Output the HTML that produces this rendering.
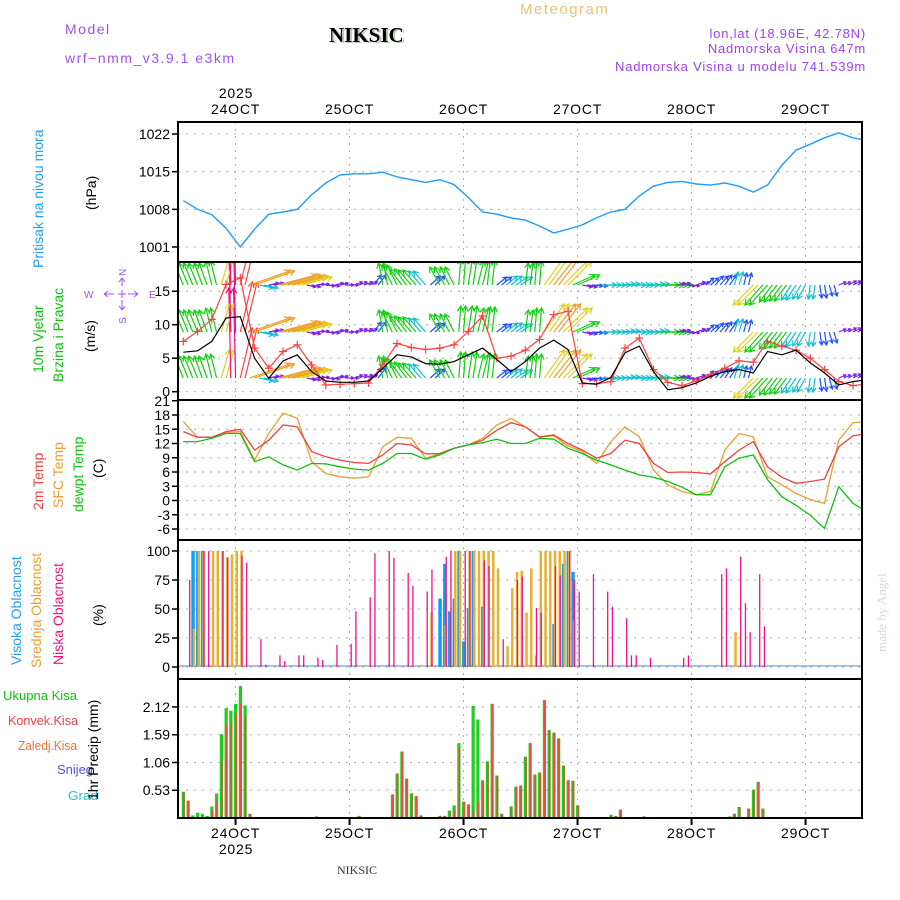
<!DOCTYPE html>
<html><head><meta charset="utf-8"><style>
body{margin:0;background:#fff}
svg{display:block}
text{font-family:"Liberation Sans",sans-serif}
</style></head><body>
<svg id="chart" width="900" height="900" viewBox="0 0 900 900" xmlns="http://www.w3.org/2000/svg">
<defs>
<clipPath id="c1"><rect x="178" y="122" width="684" height="140"/></clipPath>
<clipPath id="c2"><rect x="178" y="262" width="684" height="138"/></clipPath>
<clipPath id="c3"><rect x="178" y="400" width="684" height="140"/></clipPath>
<clipPath id="c4"><rect x="178" y="540" width="684" height="139"/></clipPath>
<clipPath id="c5"><rect x="178" y="679" width="684" height="139"/></clipPath>
</defs>
<g>
<text x="65" y="34" fill="#a050f0" font-size="14" letter-spacing="1.5">Model</text>
<text x="65" y="63" fill="#a050f0" font-size="14" letter-spacing="1.5">wrf−nmm_v3.9.1  e3km</text>
<text x="331" y="43" fill="#b8c8b8" font-size="21" font-weight="bold" style="font-family:'Liberation Serif',serif">NIKSIC</text>
<text x="329" y="42" fill="#000" font-size="21" font-weight="bold" style="font-family:'Liberation Serif',serif">NIKSIC</text>
<text x="520" y="14" fill="#f0c070" font-size="15" letter-spacing="1.5">Meteogram</text>
<text x="866" y="38" fill="#a040f0" font-size="13" text-anchor="end" letter-spacing="0.8">lon,lat (18.96E, 42.78N)</text>
<text x="866" y="53" fill="#a040f0" font-size="13" text-anchor="end" letter-spacing="0.8">Nadmorska Visina 647m</text>
<text x="866" y="71" fill="#a040f0" font-size="13" text-anchor="end" letter-spacing="0.8">Nadmorska Visina u modelu 741.539m</text>
<text x="236" y="98" font-size="14" text-anchor="middle" letter-spacing="0.8">2025</text>
<text x="236" y="854" font-size="14" text-anchor="middle" letter-spacing="0.8">2025</text>
<text x="357" y="874" font-size="12" text-anchor="middle" style="font-family:'Liberation Serif',serif" fill="#333">NIKSIC</text>
<text transform="translate(886,652) rotate(-90)" fill="#d8dcd8" font-size="13" style="font-family:'Liberation Serif',serif">made by Angel</text>
</g>
<g>
<text transform="translate(43,268) rotate(-90)" fill="#20a0f0" font-size="14">Pritisak na nivou mora</text>
<text transform="translate(96,210) rotate(-90)" font-size="14">(hPa)</text>
<text transform="translate(43,373) rotate(-90)" fill="#10c010" font-size="14">10m Vjetar</text>
<text transform="translate(63,382) rotate(-90)" fill="#10c010" font-size="14">Brzina i Pravac</text>
<text transform="translate(95,352) rotate(-90)" font-size="14">(m/s)</text>
<g fill="#a050f0" font-size="10" stroke="none">
<text x="84" y="298">W</text><text x="149" y="298">E</text>
<text transform="translate(126,276) rotate(-90)">N</text><text transform="translate(126,324) rotate(-90)">S</text>
<path d="M104,294h10M118,294h8M128,294h10M104,294l4,-3M104,294l4,3M138,294l-4,-3M138,294l-4,3M122,278v8M122,290v8M122,300v10M122,278l-3,4M122,278l3,4M122,310l-3,-4M122,310l3,-4" stroke="#a050f0" stroke-width="1" fill="none"/>
</g>
<text transform="translate(43,510) rotate(-90)" fill="#f04040" font-size="14">2m Temp</text>
<text transform="translate(63,508) rotate(-90)" fill="#e8a030" font-size="14">SFC Temp</text>
<text transform="translate(83,512) rotate(-90)" fill="#10c010" font-size="14">dewpt Temp</text>
<text transform="translate(103,478) rotate(-90)" font-size="14">(C)</text>
<text transform="translate(21,665) rotate(-90)" fill="#20a0f0" font-size="14">Visoka Oblacnost</text>
<text transform="translate(41,668) rotate(-90)" fill="#e8a030" font-size="14">Srednja Oblacnost</text>
<text transform="translate(63,665) rotate(-90)" fill="#f01080" font-size="14">Niska Oblacnost</text>
<text transform="translate(103,626) rotate(-90)" font-size="14">(%)</text>
<text x="3" y="700" fill="#10c010" font-size="13" textLength="74" lengthAdjust="spacingAndGlyphs">Ukupna Kisa</text>
<text x="8" y="725" fill="#f04040" font-size="13" textLength="70" lengthAdjust="spacingAndGlyphs">Konvek.Kisa</text>
<text x="18" y="750" fill="#f07030" font-size="13" textLength="59" lengthAdjust="spacingAndGlyphs">Zaledj.Kisa</text>
<text x="57" y="774" fill="#5050f0" font-size="13" textLength="36" lengthAdjust="spacingAndGlyphs">Snijeg</text>
<text x="68" y="800" fill="#20c0d0" font-size="13" textLength="30" lengthAdjust="spacingAndGlyphs">Grad</text>
<text transform="translate(98,800) rotate(-90)" font-size="14">1hr Precip (mm)</text>
</g>
<g id="grid"></g>
<g id="marks"></g>
<g id="frames"></g>
</svg>
<script>
const dayLabels = ["24OCT","25OCT","26OCT","27OCT","28OCT","29OCT"];
const dayHours = [11,35,59,83,107,131];
const pressureTicks = [1022,1015,1008,1001];
const windTicks = [15,10,5,0];
const tempTicks = [21,18,15,12,9,6,3,0,-3,-6];
const cloudTicks = [100,75,50,25,0];
const precipTicks = [2.12,1.59,1.06,0.53];
const lineHours = [0,3,6,9,12,15,18,21,24,27,30,33,36,39,42,45,48,51,54,57,60,63,66,69,72,75,78,81,84,87,90,93,96,99,102,105,108,111,114,117,120,123,126,129,132,135,138,141,144];
const pressure = [1009.6,1008,1007,1004.5,1001,1004.3,1007.1,1007.5,1008,1010.7,1012.9,1014.4,1014.6,1014.6,1014.9,1014,1013.5,1013,1013.5,1012.6,1010.2,1007.5,1007.1,1006.4,1006,1004.9,1003.6,1004.3,1005.1,1006.4,1007.5,1008,1010.5,1012.3,1013,1013.2,1012.7,1012.5,1012.9,1012.3,1011.2,1012.5,1016.2,1019,1020.1,1021.3,1022.2,1021.3,1020.8];
const windSpeed = [5.9,6.1,7.5,11,11.2,5,2,4.6,5.5,3,1.6,1.4,1.4,1.6,3.5,5.5,5.2,4.2,4.1,4.5,5.5,6.5,4.8,3,4.5,6.5,7.7,6.3,1.3,1.1,2.1,5.8,6.8,3,0.3,0.6,1.3,2.3,3,3.3,2.8,6,5.5,6.2,4.3,2.8,1,1.5,1.8];
const windGust = [7.5,9,10.8,16,17,6.5,3.5,6,7,4,1,1.1,1.2,1.3,4,7.2,6.6,6.3,6.5,7,9,11.3,5,5.3,6.2,7.8,11.5,12,1.2,1.2,1.5,6.5,8,3.3,1.4,0.9,1.6,2.5,3.5,4.6,4.4,7.5,6.8,6.2,5,3.3,1.5,0.9,1.2];
const temp2m = [14.5,13.3,13.3,14.5,15,10.6,12.7,15.9,15.5,10.3,9.2,8.5,8,7.8,9.6,12,11.7,9.8,9.9,11,11.7,12.7,14.8,16.4,15.5,13.4,13.8,12,10.6,8.9,9.9,12.7,12,7.8,5.9,6,5.9,5.6,8.2,10.6,12.4,7.1,4.9,3.6,4,4.5,11.3,13.6,14.1];
const tempSfc = [16.6,13.3,13.3,14.3,14.5,8.5,14.1,18.4,17.3,8.2,5.7,5,4.7,5,11.3,13.3,13.1,8.9,9.9,11,11.7,13.1,15.9,17.3,15.5,13.4,13.6,11.5,10.3,7.8,12.4,15.5,13.4,6.4,3.3,1.9,1.2,1.9,10.6,14.1,13.4,5,3.3,1.5,0.2,-0.6,12.7,16.4,16.6];
const tempDew = [12.4,12.4,13.1,14.1,14.1,8.2,9.2,7.5,6.4,7.8,7.7,7.1,6.6,6.4,7.8,9.9,9.9,8.7,9.6,11,11.7,12.2,12.9,12,12,13.1,12.9,11,9.9,8.5,7.5,6.4,5.4,4.9,4,2.8,1.2,1.2,7.1,8.9,9.6,4.4,0.8,-1,-3.1,-5.9,2.9,-0.6,-2.4];
const arrowDX = [-9,-9,-8,-6,8,-2,12,40,14,10,38,36,30,9,8,9,8,9,8,9,8,-4,-10,-12,-13,-12,10,-10,-9,2,4,6,3,10,11,12,3,2,20,22,24,22,10,11,15,15,15,16,15,16,21,20,8,8,9,8,8,7,4,3,-20,-18,-13,-12,-10,-8,-2,2,3,7,8,9];
const arrowDY = [22,22,22,24,28,90,50,14,-3,2,10,9,8,-2,1,-1,2,0,3,3,10,22,20,16,15,14,9,18,18,26,26,24,25,8,9,8,22,24,28,28,24,10,-2,-1,0,0,1,0,0,1,0,0,2,-1,3,7,9,10,13,12,-20,-20,-17,-16,-15,-14,-14,-13,-11,3,4,5];
const lowHour = [1,4,5,8,9,12,13,16,17,20,21,24,25,28,29,32,35,36,39,40,43,44,47,48,51,52,55,56,59,60,63,64,67,70,71,74,75,78,79,81,82,83,86,89,90,93,94,95,98,105,106,113,114,117,118,119,121,122];
const lowPct = [75,100,100,100,94,96,90,24,2,10,5,10,10,8,6,19,20,48,60,98,100,94,81,70,65,84,95,100,100,100,92,87,24,75,78,51,47,87,79,100,75,65,80,65,52,42,10,10,8,8,10,80,85,95,55,30,80,35];
const midHour = [2,3,4,6,7,8,9,10,11,12,52,55,57,58,60,61,62,63,64,65,66,68,69,70,71,72,73,74,75,76,77,78,79,80,81,82,116];
const midPct = [33,100,100,100,100,100,95,97,100,100,47,36,100,100,100,100,100,100,100,100,85,18,68,82,83,47,85,10,100,100,100,100,100,100,100,40,30];
const highHour = [2,3,4,54,55,56,57,58,59,60,61,63,78,80,81,82];
const highPct = [100,100,100,59,89,48,59,100,22,51,100,52,37,89,100,82];
const precipHour = [0,1,2,3,4,5,6,7,8,9,10,11,12,13,14,28,37,44,45,46,47,48,49,50,53,54,55,56,57,58,59,60,61,62,63,64,65,66,67,69,70,71,72,73,74,75,76,77,78,79,80,81,82,83,90,91,92,97,115,116,117,119,120,121,122];
const precipTotal = [.5,.33,.05,.1,.08,.04,.22,.47,1.6,2.1,2.05,2.18,2.52,2.15,.08,.03,.04,.45,.85,1.27,.75,.47,.42,.05,.02,.04,.04,.14,.24,1.43,.31,.26,2.14,1.88,.72,1.08,2.18,.81,.08,.22,.6,.62,1.17,1.43,.83,.87,2.25,1.68,1.63,1.52,1.0,.72,.71,.24,.06,.04,.16,.03,.03,.08,.21,.18,.54,.69,.18];
const precipConv = [.5,.33,0,0,0,0,.16,.32,1.1,1.77,1.85,2.0,2.18,1.96,.08,.03,.04,.45,.85,1.27,.75,.47,.42,.05,.02,.04,.04,.1,.14,1.33,.31,.26,.15,.3,.72,1.08,2.18,.81,.08,.22,.6,.62,1.17,1.43,.83,.87,2.25,1.68,1.63,1.52,1.0,.72,.71,.24,.04,.04,.16,.03,0,.08,.21,.18,.54,.69,.18];

const NS="http://www.w3.org/2000/svg";
const X0=178,X1=862;
function xh(h){return 183.3+4.75*h;}
function yP(p){return 134+(1022-p)*5.381;}
function yW(v){return 391.7-v*6.7;}
function yT(t){return 500.5-t*4.75;}
function yC(c){return 667-c*1.16;}
function yR(r){return 818-r*52.36;}
function mk(tag,at,parent){const e=document.createElementNS(NS,tag);for(const k in at)e.setAttribute(k,at[k]);parent.appendChild(e);return e;}
const grid=document.getElementById('grid'),marks=document.getElementById('marks'),frames=document.getElementById('frames');
const panels=[[122,262,pressureTicks,yP,'c1'],[262,400,windTicks,yW,'c2'],[400,540,tempTicks,yT,'c3'],[540,679,cloudTicks,yC,'c4'],[679,818,precipTicks,yR,'c5']];
panels.forEach((p,pi)=>{
  p[2].forEach(t=>{const y=p[3](t);
    const g=mk('line',{x1:X0,x2:X1,y1:y,y2:y,stroke:'#aaa','stroke-dasharray':'2,6','stroke-width':1},grid);
    
    
    const tk=mk('line',{x1:X0-6,x2:X0,y1:y,y2:y,stroke:'#000','stroke-width':1.5},frames);
    
    
    const tx=mk('text',{x:X0-8,y:y+5,'text-anchor':'end','font-size':14},frames);
    
    
    tx.textContent=String(t);
  });
  dayHours.forEach(d=>{const x=xh(d);
    const g=mk('line',{x1:x,x2:x,y1:p[0],y2:p[1],stroke:'#aaa','stroke-dasharray':'2,5','stroke-width':1},grid);
    
    });
  const r=mk('rect',{x:X0,y:p[0],width:X1-X0,height:p[1]-p[0],fill:'none',stroke:'#000','stroke-width':2},frames);
  
  
});
dayLabels.forEach((l,i)=>{const x=xh(dayHours[i]);
  const a=mk('text',{x:x,y:114,'text-anchor':'middle','font-size':14,'letter-spacing':0.8},frames);
  
  
  a.textContent=l;
  const b=mk('text',{x:x,y:838,'text-anchor':'middle','font-size':14,'letter-spacing':0.8},frames);
  
  
  b.textContent=l;
  const t=mk('line',{x1:x,x2:x,y1:818,y2:825,stroke:'#000','stroke-width':2},frames);
  
  
});
function poly(vals,yf,color,clip,name,w){
  const pts=vals.map((v,i)=>xh(lineHours[i]).toFixed(1)+','+yf(v).toFixed(1)).join(' ');
  const e=mk('polyline',{points:pts,fill:'none',stroke:color,'stroke-width':w||1.3,'clip-path':'url(#'+clip+')'},marks);
  
  
}
poly(pressure,yP,'#1e9bff','c1','pressure-line',1.4);
function arrowColor(l){if(l<10.5)return'#8020e0';if(l<13.5)return'#2050ff';if(l<19)return'#10c0d0';if(l<28)return'#10d010';if(l<35)return'#e0d020';if(l<48)return'#f0a020';if(l<75)return'#ff4040';return'#f01080';}
const rowY=[378,332,285];
const ag=mk('g',{'clip-path':'url(#c2)'},marks);


rowY.forEach(ry=>{
  for(let h=0;h<144;h++){
    const i=Math.floor(h/2);const dx=arrowDX[i],dy=-arrowDY[i];
    const L=Math.hypot(dx,dy);const col=arrowColor(L);
    const x=xh(h),x2=x+dx,y2=ry+dy;
    const ux=dx/L,uy=dy/L;const hs=Math.min(6,L*0.35);
    const d='M'+x+','+ry+'L'+x2+','+y2+'M'+(x2-hs*(ux*0.87-uy*0.5))+','+(y2-hs*(uy*0.87+ux*0.5))+'L'+x2+','+y2+'L'+(x2-hs*(ux*0.87+uy*0.5))+','+(y2-hs*(uy*0.87-ux*0.5));
    const a=mk('path',{d:d,stroke:col,'stroke-width':1.2,fill:'none'},ag);
    
    
  }
});
poly(windGust,yW,'#ff4040','c2','gust-line',1.2);
windGust.forEach((v,i)=>{const x=xh(lineHours[i]),y=yW(v);
  const c=mk('path',{d:'M'+(x-4)+','+y+'h8M'+x+','+(y-4)+'v8',stroke:'#ff4040','stroke-width':1.2,'clip-path':'url(#c2)'},marks);
  
  });
poly(windSpeed,yW,'#000','c2','wind-speed-line',1.2);
poly(tempSfc,yT,'#e8a030','c3','sfc-temp-line');
poly(temp2m,yT,'#f04040','c3','temp-2m-line');
poly(tempDew,yT,'#10c010','c3','dewpoint-line');
const zl=mk('line',{x1:X0,x2:X1,y1:666,y2:666,stroke:'#8ab0d0','stroke-width':1.5},marks);


function bars(hours,vals,yf,off,w,color,name,clip){
  hours.forEach((h,i)=>{const y=yf(vals[i]);const y0=yf(0);
    const r=mk('rect',{x:xh(h)+off,y:y,width:w,height:Math.max(0,y0-y),fill:color,'clip-path':'url(#'+clip+')'},marks);
    
    });
}
bars(highHour,highPct,yC,-1.5,3.5,'#10a0f0','high-cloud-bar','c4');
bars(midHour,midPct,yC,0,2.5,'#e8b030','mid-cloud-bar','c4');
bars(lowHour,lowPct,yC,1,1.3,'#f0108a','low-cloud-bar','c4');
bars(precipHour,precipTotal,yR,-1.5,3.2,'#20cc20','total-precip-bar','c5');
bars(precipHour,precipConv,yR,-0.3,1.6,'#ff4040','convective-precip-bar','c5');
</script>
</body></html>
